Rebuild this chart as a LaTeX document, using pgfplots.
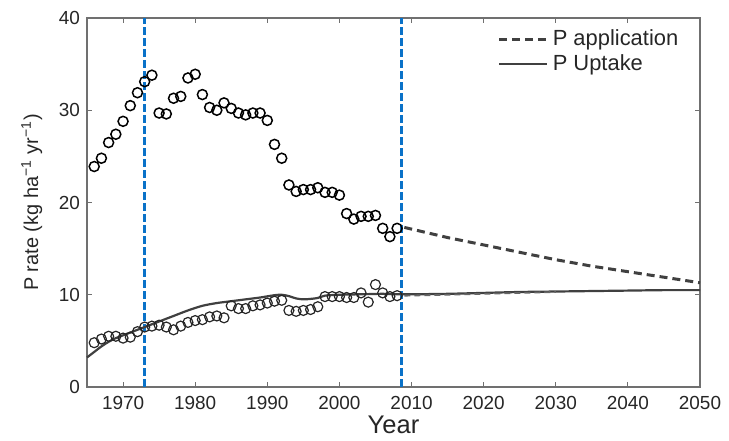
\documentclass[border=0pt]{standalone}
\usepackage{pgfplots}
\pgfplotsset{compat=1.18}
\usepackage{fontspec}
\setmainfont{Liberation Sans}
\definecolor{vblue}{HTML}{0A72C8}
\definecolor{framegray}{HTML}{707070}
\definecolor{txtgray}{HTML}{262626}
\definecolor{linegray}{HTML}{404040}
\begin{document}
\begin{tikzpicture}
\begin{axis}[
  scale only axis,
  width=306.5bp, height=184.5bp,
  xmin=1965, xmax=2050, ymin=0, ymax=40,
  xtick={1970,1980,...,2050},
  ytick={0,10,20,30,40},
  tick align=inside,
  major tick length=2.5bp,
  axis line style={framegray, line width=0.6bp},
  tick style={framegray, line width=0.5bp},
  /pgf/number format/assume math mode=true,
  /pgf/number format/1000 sep={},
  ticklabel style={font=\fontsize{9.5}{11}\selectfont, text=txtgray},
  xticklabel style={yshift=-1bp},
  xlabel={Year},
  xlabel style={font=\fontsize{12.8}{14}\selectfont, text=txtgray, at={(axis description cs:0.5,-0.103)}, anchor=center},
  ylabel={P rate (kg ha\textsuperscript{−1} yr\textsuperscript{−1})},
  ylabel style={font=\fontsize{10}{12}\selectfont, text=txtgray, at={(axis description cs:-0.09,0.5)}, anchor=center},
  legend style={draw=none, fill=none, at={(axis description cs:0.975,0.985)}, anchor=north east,
    font=\fontsize{11}{12}\selectfont, text=txtgray, inner sep=1bp, row sep=-1bp,
    /tikz/every even column/.append style={column sep=2bp}},
  legend cell align=left,
  legend image code/.code={\draw[#1] (0bp,0bp) -- (24bp,0bp);},
  clip=false,
]
% vertical markers
\addplot[forget plot, vblue, line width=1.5bp, dash pattern=on 4bp off 1.5bp] coordinates {(1973,0) (1973,40)};
\addplot[forget plot, vblue, line width=1.5bp, dash pattern=on 4bp off 1.5bp] coordinates {(2008.55,0) (2008.55,40)};
% P application projection
\addplot[linegray, line width=1.5bp, dash pattern=on 4bp off 2.5bp] coordinates {
(2009,17.3) (2015,16.2) (2020,15.4) (2025,14.6) (2030,13.8) (2035,13.1) (2040,12.5) (2045,11.9) (2050,11.3)};
\addlegendentry{P application}
% P uptake model
\addplot[linegray, line width=1.1bp, smooth] coordinates {
(1965,3.2) (1966,3.8) (1967,4.4) (1968,4.9) (1969,5.3) (1970,5.6) (1971,5.9) (1972,6.2) (1973,6.5)
(1975,7.1) (1977,7.7) (1979,8.3) (1981,8.8) (1983,9.1) (1985,9.3) (1987,9.5) (1989,9.7) (1991,9.95)
(1992,10.0) (1993,9.85) (1994,9.6) (1995,9.5) (1996,9.55) (1997,9.65) (1998,9.9) (2000,10.0)
(2003,10.05) (2006,10.1) (2008,10.05) (2010,10.05) (2015,10.1) (2020,10.2) (2025,10.3) (2030,10.35)
(2035,10.4) (2040,10.45) (2045,10.5) (2050,10.5)};
\addlegendentry{P Uptake}
\addplot[forget plot, linegray!80, line width=0.9bp, dash pattern=on 3bp off 2bp] coordinates {
(2009,9.9) (2015,10.0) (2020,10.1) (2025,10.2) (2030,10.3)};
% observed P application
\addplot[forget plot, only marks, mark=o, mark size=2.5bp, mark options={black, line width=0.75bp}] coordinates {
(1966,23.9) (1967,24.8) (1968,26.5) (1969,27.4) (1970,28.8) (1971,30.5) (1972,31.9) (1973,33.1)
(1974,33.8) (1975,29.7) (1976,29.6) (1977,31.3) (1978,31.5) (1979,33.5) (1980,33.9) (1981,31.7)
(1982,30.3) (1983,30.0) (1984,30.8) (1985,30.2) (1986,29.7) (1987,29.5) (1988,29.7) (1989,29.7)
(1990,28.9) (1991,26.3) (1992,24.8) (1993,21.9) (1994,21.2) (1995,21.4) (1996,21.4) (1997,21.6)
(1998,21.1) (1999,21.1) (2000,20.8) (2001,18.8) (2002,18.2) (2003,18.5) (2004,18.5) (2005,18.6)
(2006,17.2) (2007,16.3) (2008,17.2)};
% observed P uptake
\addplot[forget plot, only marks, mark=o, mark size=2.5bp, mark options={black!85, line width=0.6bp}] coordinates {
(1966,4.8) (1967,5.2) (1968,5.5) (1969,5.5) (1970,5.3) (1971,5.4) (1972,6.0) (1973,6.5)
(1974,6.6) (1975,6.7) (1976,6.5) (1977,6.2) (1978,6.6) (1979,7.0) (1980,7.2) (1981,7.3)
(1982,7.6) (1983,7.7) (1984,7.5) (1985,8.8) (1986,8.5) (1987,8.5) (1988,8.8) (1989,8.9)
(1990,9.1) (1991,9.3) (1992,9.4) (1993,8.3) (1994,8.2) (1995,8.3) (1996,8.4) (1997,8.7)
(1998,9.8) (1999,9.8) (2000,9.8) (2001,9.7) (2002,9.7) (2003,10.2) (2004,9.2) (2005,11.1)
(2006,10.2) (2007,9.8) (2008,9.9)};
\path (rel axis cs:0,0) ++(-43.5bp,-25bp) coordinate (bbsw);
\path (rel axis cs:1,1) ++(14.5bp,9bp) coordinate (bbne);
\end{axis}
\path[use as bounding box] (bbsw) rectangle (bbne);
\end{tikzpicture}
\end{document}
